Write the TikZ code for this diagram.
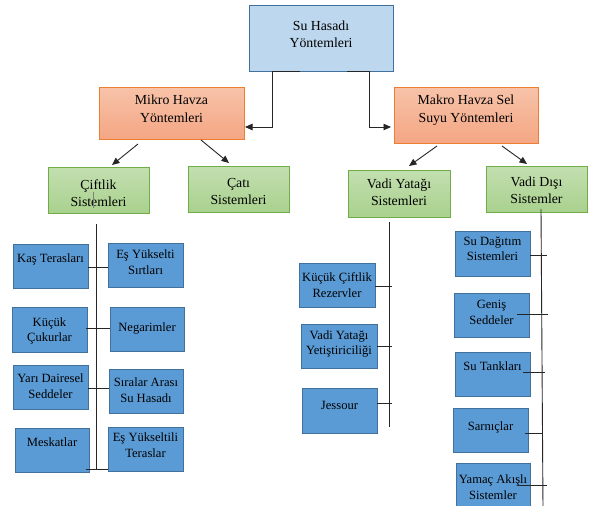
\documentclass[tikz,border=0pt]{standalone}
\usepackage{fontspec}
\setmainfont{Liberation Serif}
\usetikzlibrary{arrows.meta,calc}
\definecolor{topfill}{HTML}{BDD7EE}
\definecolor{topdraw}{HTML}{41719C}
\definecolor{orfillA}{HTML}{F7C3A9}
\definecolor{orfillB}{HTML}{F4A683}
\definecolor{ordraw}{HTML}{ED7D31}
\definecolor{grfillA}{HTML}{C3DFB0}
\definecolor{grfillB}{HTML}{A9D18E}
\definecolor{grdraw}{HTML}{70AD47}
\definecolor{blfill}{HTML}{5B9BD5}
\definecolor{bldraw}{HTML}{41719C}
\definecolor{lncol}{HTML}{262626}
\tikzset{
 base/.style={rectangle, inner sep=0pt, outer sep=0pt, line width=0.9pt},
 topbox/.style={base, fill=topfill, draw=topdraw},
 orbox/.style={base, top color=orfillA, bottom color=orfillB, draw=ordraw},
 grbox/.style={base, top color=grfillA, bottom color=grfillB, draw=grdraw},
 blbox/.style={base, fill=blfill, draw=bldraw},
 bigtxt/.style={align=center, inner sep=0pt, font=\fontsize{13.8}{17.5}\selectfont},
 smtxt/.style={align=center, inner sep=0pt, font=\fontsize{12.6}{15.5}\selectfont},
 link/.style={draw=lncol, line width=0.9pt},
 arr/.style={draw=lncol, line width=0.9pt, -{Triangle[length=7.5pt,width=6.5pt]}},
}
% #1 style, #2 name, #3 x1, #4 y1, #5 x2, #6 y2, #7 dy, #8 text style, #9 text
\newcommand\mkbox[9]{%
 \node[#1, minimum width={#5-#3}, minimum height={#6-#4}] (#2) at ({(#3+#5)/2},{(#4+#6)/2}) {};
 \node[#8] (#2t) at ([yshift=#7]#2.center) {#9};}
\begin{document}
\begin{tikzpicture}[x=1pt,y=-1pt]
\useasboundingbox (0,0) rectangle (592,506);
\fill[white] (0,0) rectangle (592,506);
\clip (0,0) rectangle (592,506);
% main boxes
\mkbox{topbox}{top}{249}{5}{393}{71}{3.5}{bigtxt}{Su Hasadı\\Yöntemleri}
\mkbox{orbox}{mik}{99}{87}{244}{139}{4}{bigtxt}{Mikro Havza\\Yöntemleri}
\mkbox{orbox}{mak}{394}{87}{538}{143}{5}{bigtxt}{Makro Havza Sel\\Suyu Yöntemleri}
\mkbox{grbox}{cif}{48}{167}{149}{213}{-3}{bigtxt}{Çiftlik\\Sistemleri}
\mkbox{grbox}{cat}{188}{166}{289}{212}{-2.5}{bigtxt}{Çatı\\Sistemleri}
\mkbox{grbox}{vy}{348}{170}{450}{217}{1}{bigtxt}{Vadi Yatağı\\Sistemleri}
\mkbox{grbox}{vd}{486}{166}{587}{212}{-1.5}{bigtxt}{Vadi Dışı\\Sistemler}
% left column
\mkbox{blbox}{kas}{13}{244}{88}{288}{7}{smtxt}{Kaş Terasları}
\mkbox{blbox}{eys}{108}{243}{183}{287}{3}{smtxt}{Eş Yükselti\\Sırtları}
\mkbox{blbox}{kuc}{12}{307}{87}{352}{-1.5}{smtxt}{Küçük\\Çukurlar}
\mkbox{blbox}{neg}{110}{307}{184}{351}{1}{smtxt}{Negarimler}
\mkbox{blbox}{yar}{13}{365}{88}{409}{1}{smtxt}{Yarı Dairesel\\Seddeler}
\mkbox{blbox}{sir}{109}{369}{183}{413}{1}{smtxt}{Sıralar Arası\\Su Hasadı}
\mkbox{blbox}{mes}{15}{428}{89}{472}{8}{smtxt}{Meskatlar}
\mkbox{blbox}{eyt}{108}{427}{183}{471}{4}{smtxt}{Eş Yükseltili\\Teraslar}
% middle column
\mkbox{blbox}{kcr}{299}{263}{375}{307}{0}{smtxt}{Küçük Çiftlik\\Rezervler}
\mkbox{blbox}{vyy}{301}{324}{377}{368}{2}{smtxt}{Vadi Yatağı\\Yetiştiriciliği}
\mkbox{blbox}{jes}{302}{388}{377}{433}{5.5}{smtxt}{Jessour}
% right column
\mkbox{blbox}{sud}{455}{231}{530}{276}{4.5}{smtxt}{Su Dağıtım\\Sistemleri}
\mkbox{blbox}{gen}{454}{293}{529}{337}{2.5}{smtxt}{Geniş\\Seddeler}
\mkbox{blbox}{sut}{455}{352}{530}{396}{8}{smtxt}{Su Tankları}
\mkbox{blbox}{sar}{453}{408}{528}{452}{3}{smtxt}{Sarnıçlar}
\mkbox{blbox}{yam}{456}{463}{530}{512}{0.5}{smtxt}{Yamaç Akışlı\\Sistemler}
% elbow connectors from top
\draw[arr] ([xshift=51pt]top.south west) -- ([xshift=23pt]top.south west) |- ([xshift=1pt,yshift=-14pt]mik.east);
\draw[arr] ([xshift=98pt]top.south west) -- ([xshift=120pt]top.south west) |- ([xshift=-3pt,yshift=-12pt]mak.west);
% diagonal arrows
\coordinate (a1s) at (138,144); \coordinate (a1e) at (112,165);
\coordinate (a2s) at (201,140); \coordinate (a2e) at (229,163);
\coordinate (a3s) at (437,146); \coordinate (a3e) at (409,166);
\coordinate (a4s) at (502,146); \coordinate (a4e) at (527,164);
\draw[arr] (a1s) -- (a1e);
\draw[arr] (a2s) -- (a2e);
\draw[arr] (a3s) -- (a3e);
\draw[arr] (a4s) -- (a4e);
% left column spine
\coordinate (lvt) at (96,224); \coordinate (lvb) at (96,470);
\draw[link] (lvt) -- (lvb);
\draw[link] ([yshift=-1pt]kas.east) -- ([yshift=-1pt]kas.east -| eys.west);
\draw[link] ([xshift=-1pt,yshift=1.5pt]kuc.east) -- ([yshift=1.5pt]kuc.east -| neg.west);
\draw[link] ([yshift=-1pt]yar.east) -- ([yshift=-1pt]yar.east -| sir.west);
\draw[link] ([xshift=-3pt,yshift=-19pt]mes.east) -- ([yshift=-19pt]mes.east -| eyt.west);
% middle spine
\coordinate (mvt) at (389,222); \coordinate (mvb) at (389,427);
\draw[link] (mvt) -- (mvb);
\draw[link] ([yshift=-1pt]kcr.east) -- +(17,0);
\draw[link] (vyy.east) -- +(15,0);
\draw[link] ([yshift=7.5pt]jes.east) -- +(15,0);
% right spine
\coordinate (rvt) at (541,209); \coordinate (rvb) at (543,508);
\draw[link] (rvt) -- (rvb);
\draw[link] ([yshift=-1.5pt]sud.east) -- +(17,0);
\draw[link] ([xshift=-12pt,yshift=1pt]gen.east) -- +(31,0);
\draw[link] ([xshift=-7pt,yshift=2pt]sut.east) -- +(22,0);
\draw[link] ([xshift=-3pt,yshift=-3pt]sar.east) -- +(17,0);
\draw[link] ([xshift=-12pt,yshift=2.5pt]yam.east) -- +(29,0);
% cursor mark in Ciftlik box
\coordinate (curt) at (93,192); \coordinate (curb) at (93,208);
\draw[gray, line width=0.8pt] (curt) -- (curb);
\end{tikzpicture}
\end{document}
